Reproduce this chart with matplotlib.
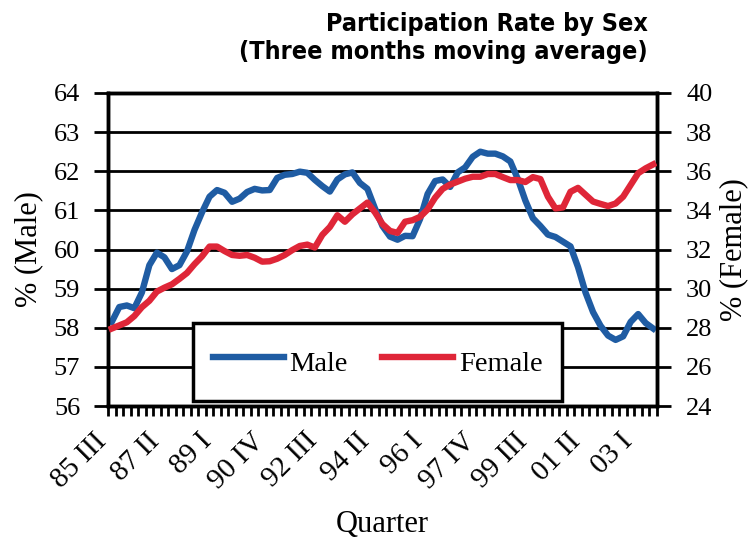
import numpy as np
import matplotlib
matplotlib.use("Agg")
import matplotlib.pyplot as plt

# quarterly data, 85 III .. 03 III
quarters = ["85 III", "87 II", "89 I", "90 IV", "92 III", "94 II",
            "96 I", "97 IV", "99 III", "01 II", "03 I"]
label_every = 7

male = [58.15, 58.53, 58.57, 58.50, 58.90, 59.60, 59.92, 59.80, 59.50, 59.60,
        59.95, 60.50, 60.95, 61.35, 61.52, 61.45, 61.22, 61.30, 61.47, 61.55,
        61.51, 61.52, 61.83, 61.91, 61.93, 61.99, 61.96, 61.78, 61.62, 61.48,
        61.79, 61.92, 61.97, 61.70, 61.55, 61.05, 60.60, 60.33, 60.25, 60.35,
        60.34, 60.78, 61.42, 61.75, 61.79, 61.60, 61.97, 62.10, 62.37, 62.50,
        62.45, 62.45, 62.38, 62.25, 61.80, 61.25, 60.80, 60.60, 60.38, 60.32,
        60.20, 60.08, 59.55, 58.90, 58.40, 58.05, 57.80, 57.69, 57.78, 58.15,
        58.35, 58.12, 57.98]

female = [27.96, 28.12, 28.28, 28.60, 29.05, 29.38, 29.85, 30.05, 30.22, 30.50,
          30.80, 31.25, 31.65, 32.15, 32.15, 31.92, 31.72, 31.68, 31.72, 31.58,
          31.38, 31.40, 31.53, 31.72, 31.97, 32.18, 32.25, 32.10, 32.75, 33.15,
          33.75, 33.42, 33.80, 34.10, 34.40, 33.90, 33.30, 32.95, 32.85, 33.42,
          33.50, 33.67, 34.05, 34.65, 35.10, 35.32, 35.47, 35.62, 35.72, 35.72,
          35.86, 35.86, 35.70, 35.55, 35.55, 35.45, 35.70, 35.60, 34.70, 34.10,
          34.15, 34.95, 35.15, 34.80, 34.45, 34.33, 34.22, 34.35, 34.70, 35.30,
          35.90, 36.15, 36.35]

BLUE = "#1f5ca3"
RED = "#df2638"
SERIF = "Liberation Serif"

n = len(male)
x = np.arange(n)

fig = plt.figure(figsize=(7.48, 5.41), dpi=100)
ax = fig.add_axes([0.1444, 0.2495, 0.7339, 0.5786])
ax2 = ax.twinx()

lm, = ax.plot(x, male, color=BLUE, lw=4.6, solid_joinstyle="round", zorder=3)
lf, = ax2.plot(x, female, color=RED, lw=4.6, solid_joinstyle="round", zorder=3)

ax.set_xlim(-0.5, n - 0.5)
ax.set_ylim(56, 64)
ax2.set_ylim(24, 40)
ax.set_yticks(np.arange(56, 65, 1))
ax2.set_yticks(np.arange(24, 41, 2))
ax.grid(axis="y", color="black", lw=2)

# tick marks between quarters, labels every 7th quarter
ax.set_xticks(np.arange(n + 1) - 0.5)
ax.set_xticklabels([])
ax.set_xticks(x[::label_every], minor=True)
ax.set_xticklabels(quarters, minor=True, rotation=45, ha="right",
                   va="bottom", rotation_mode="anchor",
                   fontfamily=SERIF, fontsize=21)
ax.tick_params(axis="x", which="major", direction="out", length=7, width=2)
ax.tick_params(axis="x", which="minor", length=0, pad=29)

for a in (ax, ax2):
    for s in a.spines.values():
        s.set_linewidth(2.5)
    a.tick_params(axis="y", direction="out", length=10, width=2, labelsize=19)
    for t in a.get_yticklabels():
        t.set_fontfamily(SERIF)
ax.tick_params(axis="y", pad=10)
ax2.tick_params(axis="y", pad=11)

ax.set_ylabel("% (Male)", fontfamily=SERIF, fontsize=22, labelpad=8)
ax2.set_ylabel("% (Female)", fontfamily=SERIF, fontsize=22, labelpad=5)
ax.set_xlabel("Quarter", fontfamily=SERIF, fontsize=22, labelpad=12)

leg = ax2.legend([lm, lf], ["Male", "Female"], ncol=2, loc="center",
                 bbox_to_anchor=(0.491, 0.14), frameon=True, fancybox=False,
                 framealpha=1, prop={"family": SERIF, "size": 20.5},
                 handlelength=2.5, handleheight=1.7, handletextpad=0.2,
                 columnspacing=1.2, borderpad=0.7, borderaxespad=0)
leg.get_frame().set_edgecolor("black")
leg.get_frame().set_linewidth(2.5)
leg.set_zorder(10)

fig.text(0.866, 0.93, "Participation Rate by Sex\n(Three months moving average)",
         ha="right", va="center", fontsize=18, fontweight="bold",
         fontfamily="DejaVu Sans", fontstretch="condensed", linespacing=1.2)

fig.savefig("out.png", dpi=100)
